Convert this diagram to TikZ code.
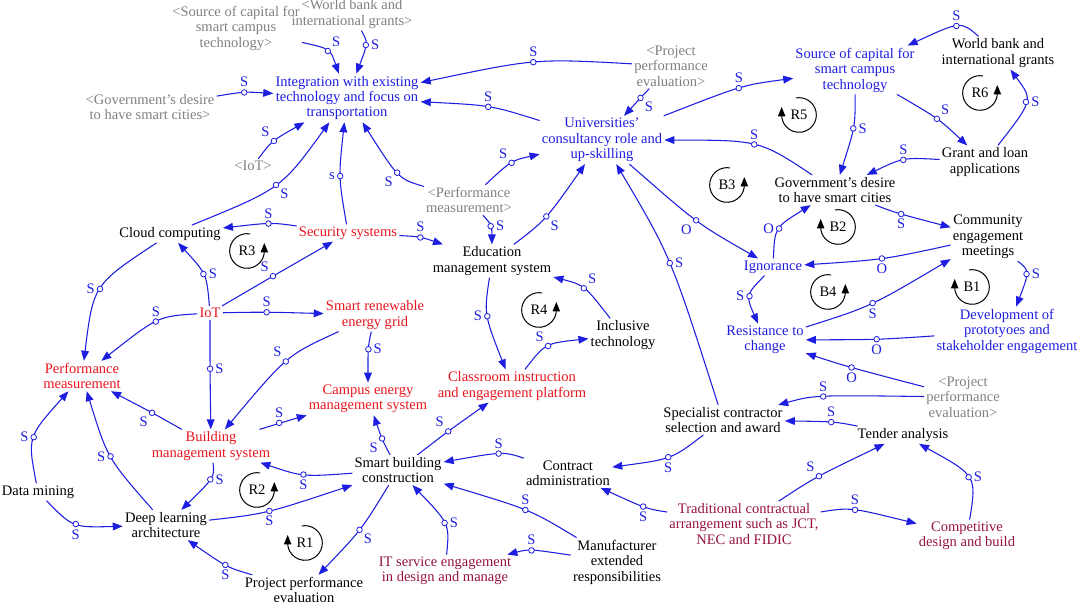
\documentclass[tikz,border=0pt]{standalone}
\usepackage{fontspec}
\setmainfont{Liberation Serif}
\usetikzlibrary{arrows.meta,calc}
\newcommand\vfnt{\fontsize{10.9pt}{11.6pt}\selectfont}
\definecolor{cb}{RGB}{30,30,225}
\definecolor{cr}{RGB}{235,20,30}
\definecolor{cm}{RGB}{150,20,60}
\definecolor{cg}{RGB}{128,128,128}
\newcommand\lk[7]{\draw[lkst] (#1) .. controls ($1.3333*(#4)-0.1667*(#3)-0.1667*(#5)$) .. (#2) node[pm,pos=.5,label={[lab]#6:#7}]{};}
\begin{document}
\begin{tikzpicture}[x=0.75pt,y=-0.75pt,
  v/.style={align=center,inner sep=1.5pt,font=\vfnt,text=black},
  gt/.style={v,text=cg},
  bt/.style={v,text=cb},
  rt/.style={v,text=cr},
  mt/.style={v,text=cm},
  lkst/.style={draw=cb,line width=0.8pt,-{Triangle[length=7.5pt,width=5.8pt]}},
  pm/.style={circle,draw=cb,fill=white,line width=0.6pt,inner sep=0pt,minimum size=4.2pt,label distance=0.5pt},
  lab/.style={text=cb,font=\vfnt,inner sep=1.2pt},
  lp/.style={draw=black,line width=0.75pt,-{Triangle[length=7pt,width=5.5pt]}},
  lccw/.pic={\draw[lp,x=1pt,y=1pt] (80:13) arc[start angle=80,end angle=360,radius=13] -- ++(0,6); \node[v] (-l) {#1};},
  lcw/.pic={\draw[lp,x=1pt,y=1pt] (100:13) arc[start angle=100,end angle=-180,radius=13] -- ++(0,6); \node[v] (-l) {#1};}
]
\useasboundingbox (0,0) rectangle (1079,605);
% nodes
\node[gt] (ssrc) at (236,28) {<Source of capital for\\smart campus\\technology>};
\node[gt] (swb) at (352,14) {<World bank and\\international grants>};
\node[gt] (sgov) at (150,107) {<Government's desire\\to have smart cities>};
\node[gt] (siot) at (253,166) {<IoT>};
\node[bt] (int) at (347,98) {Integration with existing\\technology and focus on\\transportation};
\node[gt] (sppe) at (671,66) {<Project\\performance\\evaluation>};
\node[bt] (univ) at (602,140) {Universities'\\consultancy role and\\up-skilling};
\node[bt] (src) at (855,70) {Source of capital for\\smart campus\\technology};
\node[v] (wb) at (998,53) {World bank and\\international grants};
\node[v] (grant) at (985,162) {Grant and loan\\applications};
\node[v] (gov) at (835,190) {Government's desire\\to have smart cities};
\node[v] (com) at (988,237) {Community\\engagement\\meetings};
\node[bt] (ign) at (773,267) {Ignorance};
\node[bt] (res) at (765,340) {Resistance to\\change};
\node[bt] (dev) at (1007,331) {Development of\\prototyoes and\\stakeholder engagement};
\node[gt] (sppe2) at (963,397) {<Project\\performance\\evaluation>};
\node[v] (spec) at (723,420) {Specialist contractor\\selection and award};
\node[v] (tender) at (903,435) {Tender analysis};
\node[v] (contract) at (568,473) {Contract\\administration};
\node[mt] (trad) at (744,524) {Traditional contractual\\arrangement such as JCT,\\NEC and FIDIC};
\node[mt] (comp) at (967,536) {Competitive\\design and build};
\node[v] (sbc) at (398,470) {Smart building\\construction};
\node[v] (manuf) at (617,562) {Manufacturer\\extended\\responsibilities};
\node[mt] (its) at (445,571) {IT service engagement\\in design and manage};
\node[v] (ppe) at (304,590) {Project performance\\evaluation};
\node[v] (deep) at (166,525) {Deep learning\\architecture};
\node[v] (dm) at (38,492) {Data mining};
\node[rt] (bms) at (211,446) {Building\\management system};
\node[rt] (pm) at (82,376) {Performance\\measurement};
\node[rt] (campus) at (368,399) {Campus energy\\management system};
\node[rt] (sre) at (375,315) {Smart renewable\\energy grid};
\node[rt] (iot) at (210,313) {IoT};
\node[v] (cloud) at (170,234) {Cloud computing};
\node[rt] (sec) at (348,233) {Security systems};
\node[v] (edu) at (492,261) {Education\\management system};
\node[gt] (spm) at (469,200) {<Performance\\measurement>};
\node[v] (incl) at (623,335) {Inclusive\\technology};
\node[rt] (class) at (512,386) {Classroom instruction\\and engagement platform};
% links
\lk{ssrc}{int}{305,35}{329,50}{345,73}{above right}{S}
\lk{swb}{int}{362,32}{367,45}{365,72}{right}{S}
\lk{sgov}{int}{219,94}{245,92}{277,92}{above}{S}
\lk{siot}{int}{259,160}{273,141}{296,121}{above left}{S}
\lk{cloud}{int}{200,223}{278,185}{337,125}{below right}{S}
\lk{sec}{int}{345,223}{340,176}{344,123}{left}{s}
\lk{spm}{int}{423,188}{397,173}{362,123}{below left}{S}
\lk{sppe}{int}{630,61}{534,61}{428,76}{above}{S}
\lk{univ}{int}{537,118}{489,106}{429,98}{above}{S}
\lk{sppe}{univ}{650,90}{641,98}{627,115}{below right}{S}
\lk{spm}{univ}{483,183}{511,162}{537,149}{above left}{S}
\lk{spm}{edu}{490,212}{492,225}{495,238}{right}{S}
\lk{edu}{univ}{517,243}{547,216}{587,162}{below right}{S}
\lk{spec}{univ}{707,405}{668,263}{613,163}{right}{S}
\lk{univ}{ign}{628,165}{696,220}{758,255}{below left}{O}
\lk{univ}{src}{658,115}{738,88}{792,78}{above}{S}
\lk{gov}{univ}{815,173}{755,143}{667,130}{above}{S}
\lk{src}{gov}{855,93}{854,128}{845,173}{right}{S}
\lk{src}{grant}{898,93}{938,119}{975,148}{above right}{S}
\lk{grant}{gov}{940,155}{903,159}{863,172}{above}{S}
\lk{grant}{wb}{1010,145}{1029,102}{1022,70}{right}{S}
\lk{wb}{src}{978,37}{952,26}{873,45}{above}{S}
\lk{gov}{com}{872,205}{901,214}{952,227}{below}{S}
\lk{ign}{gov}{772,252}{777,228}{795,207}{left}{O}
\lk{com}{ign}{950,247}{882,259}{805,267}{below}{O}
\lk{com}{dev}{1022,260}{1029,274}{1031,307}{right}{S}
\lk{ign}{res}{762,275}{748,296}{748,323}{left}{S}
\lk{res}{com}{810,325}{874,303}{957,260}{below}{S}
\lk{dev}{res}{932,335}{877,339}{810,339}{below}{O}
\lk{sppe2}{res}{923,383}{852,367}{810,353}{below}{O}
\lk{sppe2}{spec}{923,392}{823,396}{777,405}{above}{S}
\lk{tender}{spec}{860,427}{832,422}{788,419}{above}{S}
\lk{trad}{tender}{780,500}{819,476}{883,443}{above left}{S}
\lk{trad}{comp}{828,509}{857,509}{925,519}{above}{S}
\lk{comp}{tender}{975,518}{972,477}{940,444}{right}{S}
\lk{trad}{contract}{668,513}{643,507}{598,490}{below}{S}
\lk{spec}{contract}{700,437}{668,458}{613,472}{below}{S}
\lk{contract}{sbc}{523,459}{499,453}{447,456}{above}{S}
\lk{manuf}{sbc}{578,538}{526,510}{447,483}{above}{S}
\lk{manuf}{its}{570,551}{529,550}{488,555}{above}{S}
\lk{its}{sbc}{448,555}{446,523}{422,485}{right}{S}
\lk{sbc}{class}{420,452}{449,431}{492,402}{above left}{S}
\lk{sbc}{campus}{392,453}{382,438}{371,413}{below left}{S}
\lk{sbc}{ppe}{389,486}{360,530}{322,575}{below right}{S}
\lk{ppe}{deep}{247,573}{224,565}{182,542}{below}{S}
\lk{deep}{sbc}{208,520}{270,511}{358,485}{below}{S}
\lk{sbc}{bms}{350,477}{301,475}{243,462}{below}{S}
\lk{bms}{deep}{213,462}{212,479}{195,507}{right}{S}
\lk{bms}{campus}{260,430}{280,423}{313,415}{above}{S}
\lk{bms}{pm}{182,432}{152,413}{110,390}{below left}{S}
\lk{deep}{pm}{147,508}{110,457}{88,398}{left}{S}
\lk{dm}{pm}{33,478}{32,437}{58,395}{left}{S}
\lk{dm}{deep}{45,500}{75,525}{118,534}{below}{S}
\lk{iot}{bms}{210,321}{210,369}{210,430}{right}{S}
\lk{sre}{bms}{335,330}{285,361}{222,427}{above left}{S}
\lk{sre}{campus}{373,330}{368,349}{363,382}{right}{S}
\lk{iot}{sre}{223,312}{266,312}{318,312}{above}{S}
\lk{iot}{sec}{227,304}{273,276}{328,242}{above left}{S}
\lk{iot}{cloud}{210,303}{204,274}{182,245}{right}{S}
\lk{iot}{pm}{197,313}{155,321}{95,357}{above}{S}
\lk{cloud}{pm}{152,243}{99,288}{80,353}{left}{S}
\lk{sec}{cloud}{295,223}{267,223}{213,226}{above}{S}
\lk{sec}{edu}{402,233}{422,237}{453,243}{above}{S}
\lk{edu}{class}{492,277}{487,316}{500,368}{left}{S}
\lk{class}{incl}{522,368}{548,345}{590,332}{above left}{S}
\lk{incl}{edu}{613,318}{585,288}{560,275}{above right}{S}
% loop markers
\pic (r3) at (247,251) {lccw=R3};
\pic (r5) at (799,115) {lcw=R5};
\pic (r6) at (980,93) {lccw=R6};
\pic (b3) at (727,185) {lccw=B3};
\pic (b2) at (838,227) {lcw=B2};
\pic (b4) at (828,292) {lccw=B4};
\pic (b1) at (972,287) {lcw=B1};
\pic (r4) at (539,310) {lccw=R4};
\pic (r2) at (257,490) {lccw=R2};
\pic (r1) at (305,543) {lcw=R1};
\end{tikzpicture}
\end{document}
